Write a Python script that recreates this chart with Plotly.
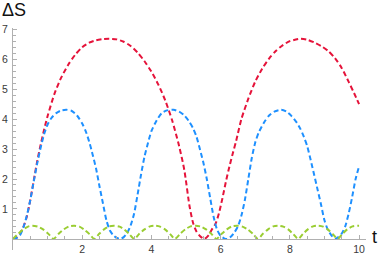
import plotly.graph_objects as go

# ---- data ----
t_red = [0.00, 0.10, 0.20, 0.30, 0.40, 0.50, 0.60, 0.70, 0.80, 0.90, 1.00, 1.20, 1.40,
         1.60, 1.80, 2.00, 2.20, 2.40, 2.60, 2.78, 3.00, 3.20, 3.40, 3.60, 3.80, 4.00,
         4.20, 4.40, 4.60, 4.80, 4.95, 5.10, 5.20, 5.30, 5.40, 5.53, 5.65, 5.75, 5.85,
         5.95, 6.05, 6.15, 6.25, 6.35, 6.45, 6.60, 6.80, 7.00, 7.20, 7.40, 7.60, 7.80,
         8.00, 8.30, 8.50, 8.70, 8.90, 9.10, 9.30, 9.50, 9.70, 9.85, 10.00]
s_red = [0.00, 0.05, 0.17, 0.40, 0.75, 1.30, 1.95, 2.60, 3.15, 3.65, 4.10, 4.85, 5.40,
         5.82, 6.15, 6.40, 6.55, 6.63, 6.67, 6.68, 6.66, 6.58, 6.44, 6.22, 5.93, 5.58,
         5.15, 4.62, 3.95, 3.10, 2.30, 1.10, 0.55, 0.25, 0.10, 0.00, 0.12, 0.32, 0.50,
         0.85, 1.35, 1.90, 2.40, 2.85, 3.28, 4.00, 4.68, 5.25, 5.68, 6.02, 6.28, 6.47,
         6.60, 6.68, 6.65, 6.56, 6.44, 6.28, 6.04, 5.70, 5.24, 4.88, 4.50]

t_blue = [0.00, 0.10, 0.20, 0.30, 0.40, 0.50, 0.60, 0.70, 0.80, 0.90, 1.00, 1.10, 1.25,
          1.40, 1.55, 1.70, 1.85, 2.00, 2.10, 2.20, 2.30, 2.40, 2.50, 2.60, 2.70, 2.80,
          2.90, 3.00, 3.10, 3.20, 3.30, 3.40, 3.50, 3.60, 3.70, 3.80, 3.90, 4.00, 4.15,
          4.30, 4.45, 4.64, 4.80, 4.95, 5.07, 5.20, 5.30, 5.40, 5.50, 5.60, 5.70, 5.80,
          5.90, 6.00, 6.10, 6.19, 6.30, 6.40, 6.50, 6.60, 6.70, 6.80, 6.90, 7.00, 7.10,
          7.25, 7.40, 7.55, 7.75, 7.90, 8.05, 8.20, 8.30, 8.40, 8.50, 8.60, 8.70, 8.80,
          8.90, 9.00, 9.10, 9.20, 9.30, 9.40, 9.50, 9.60, 9.70, 9.80, 9.90, 10.00]
s_blue = [0.00, 0.03, 0.12, 0.38, 0.78, 1.30, 1.92, 2.52, 3.05, 3.50, 3.82, 4.02, 4.20,
          4.29, 4.31, 4.27, 4.12, 3.85, 3.60, 3.25, 2.82, 2.35, 1.75, 1.18, 0.62, 0.28,
          0.12, 0.03, 0.00, 0.06, 0.20, 0.45, 0.85, 1.48, 2.15, 2.75, 3.20, 3.60, 3.95,
          4.20, 4.29, 4.31, 4.25, 4.12, 3.95, 3.70, 3.42, 3.00, 2.55, 2.00, 1.35, 0.72,
          0.30, 0.10, 0.02, 0.00, 0.08, 0.22, 0.42, 0.78, 1.30, 2.00, 2.70, 3.22, 3.55,
          3.88, 4.12, 4.25, 4.31, 4.25, 4.10, 3.88, 3.68, 3.42, 3.10, 2.64, 2.15, 1.65,
          1.15, 0.62, 0.30, 0.12, 0.00, 0.06, 0.18, 0.42, 0.85, 1.40, 2.00, 2.42]

t_green = [0.00, 0.15, 0.30, 0.45, 0.56, 0.72, 0.88, 1.03, 1.17, 1.32, 1.47, 1.62, 1.77,
           1.92, 2.06, 2.21, 2.35, 2.49, 2.63, 2.78, 2.93, 3.08, 3.22, 3.36, 3.50, 3.65,
           3.80, 3.96, 4.10, 4.25, 4.40, 4.54, 4.68, 4.83, 4.98, 5.13, 5.28, 5.43, 5.59,
           5.74, 5.88, 6.03, 6.18, 6.33, 6.48, 6.63, 6.79, 6.94, 7.08, 7.22, 7.37, 7.52,
           7.66, 7.81, 7.96, 8.10, 8.24, 8.38, 8.52, 8.67, 8.81, 8.96, 9.10, 9.24, 9.38,
           9.52, 9.66, 9.81, 9.95, 10.00]
s_green = [0.00, 0.17, 0.32, 0.42, 0.44, 0.41, 0.31, 0.16, 0.00, 0.17, 0.32, 0.42, 0.44,
           0.41, 0.31, 0.16, 0.00, 0.17, 0.32, 0.42, 0.44, 0.41, 0.31, 0.16, 0.00, 0.17,
           0.32, 0.42, 0.44, 0.41, 0.31, 0.16, 0.00, 0.17, 0.32, 0.42, 0.44, 0.41, 0.31,
           0.16, 0.00, 0.17, 0.32, 0.42, 0.44, 0.41, 0.31, 0.16, 0.00, 0.17, 0.32, 0.42,
           0.44, 0.41, 0.31, 0.16, 0.00, 0.17, 0.32, 0.42, 0.44, 0.41, 0.31, 0.16, 0.00,
           0.17, 0.32, 0.42, 0.44, 0.44]

x_ticks = [2, 4, 6, 8, 10]
y_ticks = [1, 2, 3, 4, 5, 6, 7]
x_minor = [0.5, 1, 1.5, 2.5, 3, 3.5, 4.5, 5, 5.5, 6.5, 7, 7.5, 8.5, 9, 9.5]
y_minor = [round(0.2 * k, 1) for k in range(1, 35) if k % 5 != 0]

# ---- figure ----
W, H = 380, 258
XR = [0.0, 10.2]
YR = [-0.37, 7.04]
ML, MR, MT, MB = 13.3, 13.8, 28.3, 7.8

AX = "#b0b0b0"
LBL = "#3a3a3a"
FONT = "Liberation Sans"

fig = go.Figure()
series = [(t_red, s_red, "#E5133A"), (t_blue, s_blue, "#1E90FF"), (t_green, s_green, "#9ACD32")]
for tx, sy, col in series:
    fig.add_trace(go.Scatter(x=tx, y=sy, mode="lines",
                             line=dict(color=col, width=2, dash="5px,3px", shape="spline", smoothing=0.7),
                             showlegend=False, hoverinfo="skip"))

pos_x_axis = (0 - YR[0]) / (YR[1] - YR[0])

fig.update_layout(
    width=W, height=H,
    margin=dict(l=ML, r=MR, t=MT, b=MB, pad=0, autoexpand=False),
    paper_bgcolor="white", plot_bgcolor="white",
    font=dict(family=FONT, size=10, color=LBL),
    xaxis=dict(range=XR, showgrid=False, zeroline=False, showline=True, linecolor=AX, linewidth=1,
               anchor="free", position=pos_x_axis, automargin=False,
               ticks="inside", ticklen=4, tickcolor=AX, tickwidth=1,
               tickmode="array", tickvals=x_ticks, ticktext=[str(v) for v in x_ticks],
               tickfont=dict(family=FONT, size=10.5, color=LBL),
               minor=dict(tickmode="array", tickvals=x_minor, ticks="inside", ticklen=2.5,
                          tickcolor=AX, tickwidth=1, showgrid=False)),
    yaxis=dict(range=YR, showgrid=False, zeroline=False, showline=True, linecolor=AX, linewidth=1,
               automargin=False, ticklabelstandoff=2,
               ticks="inside", ticklen=4, tickcolor=AX, tickwidth=1,
               tickmode="array", tickvals=y_ticks, ticktext=[str(v) for v in y_ticks],
               tickfont=dict(family=FONT, size=10.5, color=LBL),
               minor=dict(tickmode="array", tickvals=y_minor, ticks="inside", ticklen=2.5,
                          tickcolor=AX, tickwidth=1, showgrid=False)),
)

pw = W - ML - MR
ph = H - MT - MB
fig.add_annotation(text="ΔS", xref="paper", yref="paper",
                   x=(0 - ML) / pw, y=(H - MB - 10) / ph,
                   xanchor="left", yanchor="middle", showarrow=False,
                   font=dict(family=FONT, size=18, color="#111111"))
fig.add_annotation(text="t", xref="paper", yref="paper",
                   x=(379 - ML) / pw, y=(H - MB - 237) / ph,
                   xanchor="right", yanchor="middle", showarrow=False,
                   font=dict(family=FONT, size=18, color="#111111"))

fig.write_html("out.html", config={"displayModeBar": False},
               post_script="document.body.style.margin='0';")
